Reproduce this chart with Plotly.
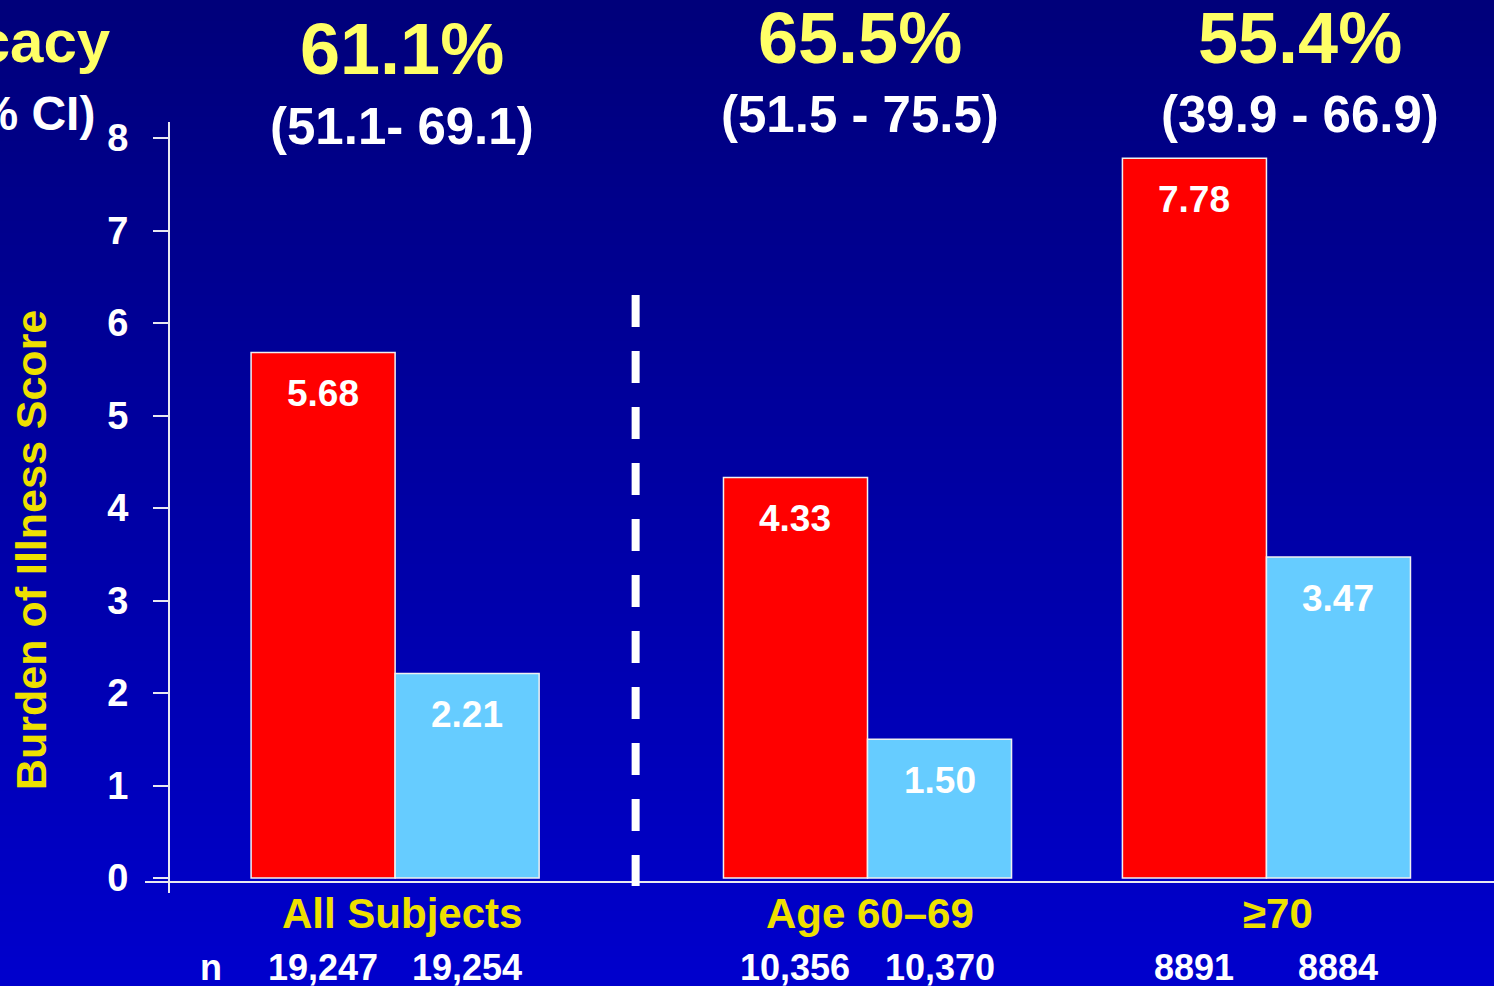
import base64
import struct
import zlib

import plotly.graph_objects as go

# ---- data -------------------------------------------------------------
groups = ["All Subjects", "Age 60\u201369", "\u226570"]
placebo = [5.68, 4.33, 7.78]
vaccine = [2.21, 1.50, 3.47]
n_placebo = ["19,247", "10,356", "8891"]
n_vaccine = ["19,254", "10,370", "8884"]
efficacy = ["61.1%", "65.5%", "55.4%"]
efficacy_ci = ["(51.1- 69.1)", "(51.5 - 75.5)", "(39.9 - 66.9)"]
y_ticks = [0, 1, 2, 3, 4, 5, 6, 7, 8]

# ---- layout helpers --------------------------------------------------
W, H = 1494, 986
M_L, M_R, M_T, M_B = 169, 0, 122, 104
PW, PH = W - M_L - M_R, H - M_T - M_B
X_RANGE = [0, 9.2]            # one unit == one bar width
Y_RANGE = [-0.0432, 8.173]
group_x = [1.57, 4.85, 7.62]  # centres of the bar pairs
divider_x = 3.24              # dashed separator between overall and age groups
header_x = [1.62, 4.80, 7.85]
category_x = [1.62, 4.87, 7.70]

FONT = "Liberation Sans, Arial, sans-serif"
WHITE = "#FFFFFF"
YELLOW = "#FFFF66"
YELLOW2 = "#EEE000"
RED = "#FF0000"
LIGHT_BLUE = "#66CCFF"


def px(p):
    """pixel column -> paper x"""
    return (p - M_L) / PW


def py(p):
    """pixel row -> paper y"""
    return (H - M_B - p) / PH


def gradient_png(top, bottom, h=256):
    raw = b""
    for i in range(h):
        t = i / (h - 1)
        raw += b"\x00" + bytes(round(a + (c - a) * t) for a, c in zip(top, bottom))

    def chunk(tag, data):
        body = tag + data
        return struct.pack(">I", len(data)) + body + struct.pack(">I", zlib.crc32(body) & 0xFFFFFFFF)

    png = (b"\x89PNG\r\n\x1a\n"
           + chunk(b"IHDR", struct.pack(">IIBBBBB", 1, h, 8, 2, 0, 0, 0))
           + chunk(b"IDAT", zlib.compress(raw))
           + chunk(b"IEND", b""))
    return "data:image/png;base64," + base64.b64encode(png).decode()


fig = go.Figure()

fig.add_trace(go.Bar(
    x=group_x, y=placebo, width=1, offset=-1,
    marker=dict(color=RED, line=dict(color="#F0F0F0", width=1.5)),
    name="Placebo", hoverinfo="y",
))
fig.add_trace(go.Bar(
    x=group_x, y=vaccine, width=1, offset=0,
    marker=dict(color=LIGHT_BLUE, line=dict(color="#F0F0F0", width=1.5)),
    name="Vaccine", hoverinfo="y",
))

ann = []
# values inside the bars
for gx, pv, vv in zip(group_x, placebo, vaccine):
    for x, v in ((gx - 0.5, pv), (gx + 0.5, vv)):
        ann.append(dict(x=x, y=v, xref="x", yref="y", text=f"{v:.2f}",
                        showarrow=False, yanchor="middle", yshift=-41,
                        font=dict(family=FONT, size=37, color=WHITE, weight="bold")))

# efficacy headline and confidence interval above each group
for hx, e, ci, ey, cy in zip(header_x, efficacy, efficacy_ci, [49, 38, 38], [127, 115, 115]):
    ann.append(dict(x=hx, y=py(ey), xref="x", yref="paper", text=e, showarrow=False,
                    yanchor="middle", font=dict(family=FONT, size=72, color=YELLOW, weight="bold")))
    ann.append(dict(x=hx, y=py(cy), xref="x", yref="paper", text=ci, showarrow=False,
                    yanchor="middle", font=dict(family=FONT, size=51, color=WHITE, weight="bold")))

# category names and sample sizes below the axis
for cx, g in zip(category_x, groups):
    ann.append(dict(x=cx, y=py(913), xref="x", yref="paper", text=g, showarrow=False,
                    yanchor="middle", font=dict(family=FONT, size=42, color=YELLOW2, weight="bold")))
for gx, a, b in zip(group_x, n_placebo, n_vaccine):
    for x, t in ((gx - 0.5, a), (gx + 0.5, b)):
        ann.append(dict(x=x, y=py(967), xref="x", yref="paper", text=t, showarrow=False,
                        yanchor="middle", font=dict(family=FONT, size=36, color=WHITE, weight="bold")))
ann.append(dict(x=px(211), y=py(967), xref="paper", yref="paper", text="n", showarrow=False,
                xanchor="center", yanchor="middle",
                font=dict(family=FONT, size=36, color=WHITE, weight="bold")))

# left-hand heading and axis title
ann.append(dict(x=px(113), y=py(42), xref="paper", yref="paper", text="Efficacy",
                showarrow=False, xanchor="right", yanchor="middle",
                font=dict(family=FONT, size=60, color=YELLOW, weight="bold")))
ann.append(dict(x=px(97), y=py(114), xref="paper", yref="paper", text="(95% CI)",
                showarrow=False, xanchor="right", yanchor="middle",
                font=dict(family=FONT, size=48, color=WHITE, weight="bold")))
ann.append(dict(x=px(31), y=py(550), xref="paper", yref="paper", text="Burden of Illness Score",
                showarrow=False, textangle=-90, xanchor="center", yanchor="middle",
                font=dict(family=FONT, size=43, color=YELLOW2, weight="bold")))

shapes = [
    # y axis line (runs slightly below the x axis)
    dict(type="line", xref="paper", yref="paper", x0=0, x1=0, y0=py(893), y1=1,
         line=dict(color="#E8E8F0", width=2)),
    # x axis line (starts slightly left of the y axis)
    dict(type="line", xref="paper", yref="paper", x0=px(145), x1=1, y0=0, y1=0,
         line=dict(color="#E8E8F0", width=2)),
    # dashed separator
    dict(type="line", xref="x", yref="paper", x0=divider_x, x1=divider_x, y0=py(295), y1=py(886),
         line=dict(color=WHITE, width=8, dash="32px,24px")),
]

fig.update_layout(
    width=W, height=H,
    margin=dict(l=M_L, r=M_R, t=M_T, b=M_B, pad=0),
    paper_bgcolor="#00008C",
    plot_bgcolor="rgba(0,0,0,0)",
    barmode="overlay",
    showlegend=False,
    annotations=ann,
    shapes=shapes,
    images=[dict(source=gradient_png((0, 0, 122), (0, 0, 205)),
                 xref="paper", yref="paper", x=px(0), y=py(0),
                 sizex=W / PW, sizey=H / PH, xanchor="left", yanchor="top",
                 sizing="stretch", layer="below")],
    xaxis=dict(range=X_RANGE, showgrid=False, zeroline=False, showline=False,
               showticklabels=False, ticks="", fixedrange=True),
    yaxis=dict(range=Y_RANGE, tickvals=y_ticks, showgrid=False, zeroline=False,
               showline=False, ticks="outside", ticklen=15, tickwidth=2,
               tickcolor="#E8E8F0", ticklabelstandoff=17,
               tickfont=dict(family=FONT, size=38, color=WHITE, weight="bold"),
               fixedrange=True),
)

fig.write_html("out.html")
